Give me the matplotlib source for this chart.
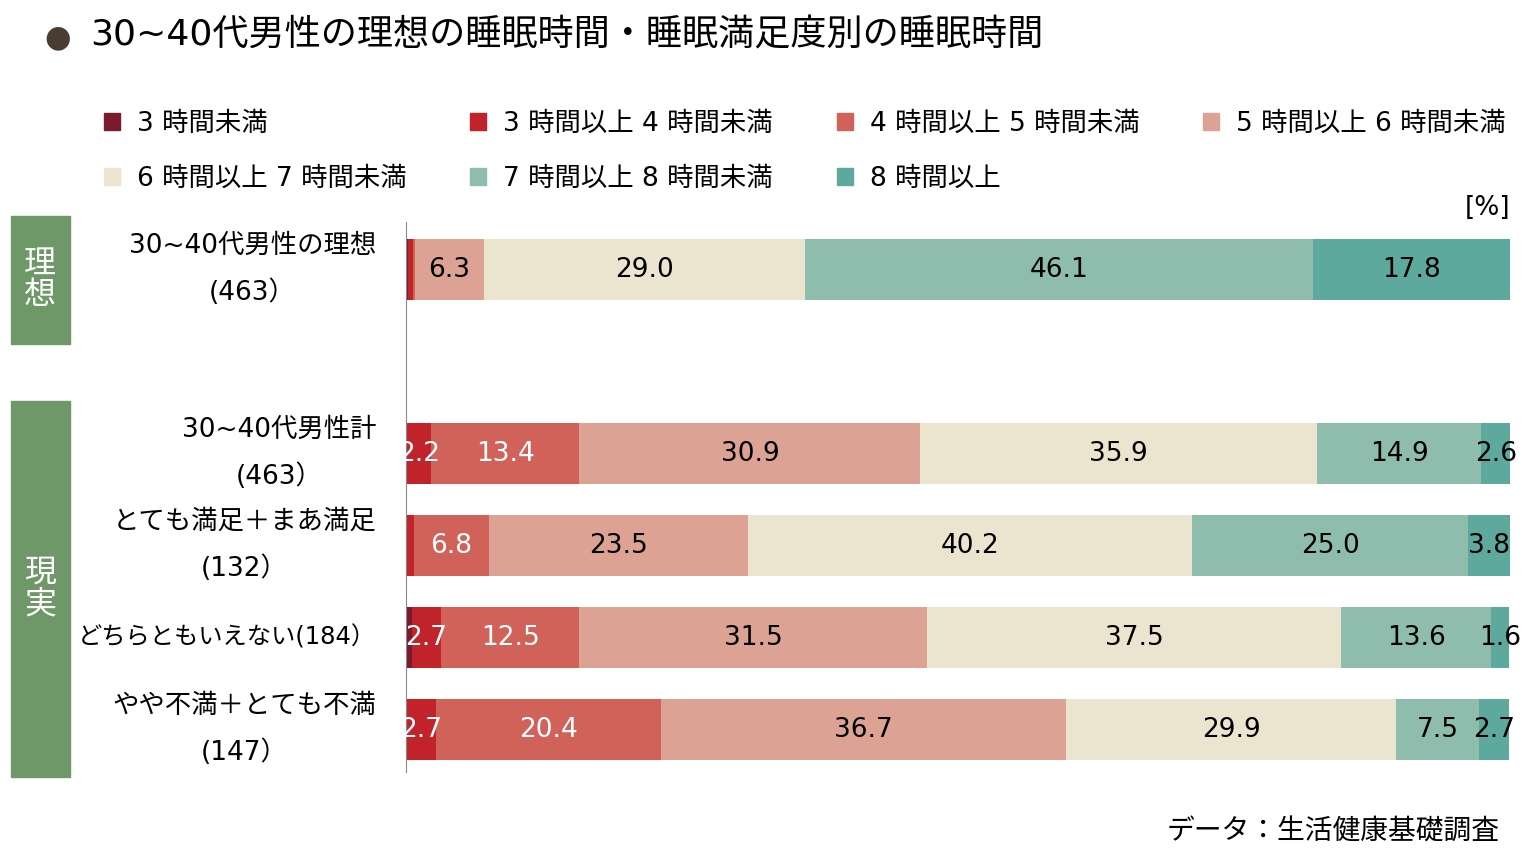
import matplotlib.pyplot as plt
from matplotlib.patches import Patch, Rectangle

plt.rcParams['font.family'] = ['DejaVu Sans', 'Noto Sans CJK JP']

# data
groups = ['30~40代男性の理想\n(463）', '',
          '30~40代男性計\n(463）', 'とても満足＋まあ満足\n(132）',
          'どちらともいえない(184）', 'やや不満＋とても不満\n(147）']
categories = ['3 時間未満', '3 時間以上 4 時間未満', '4 時間以上 5 時間未満',
              '5 時間以上 6 時間未満', '6 時間以上 7 時間未満',
              '7 時間以上 8 時間未満', '8 時間以上']
values = [
    [0.2, 0.4, 0.2, 6.3, 29.0, 46.1, 17.8],
    None,
    [0.1, 2.2, 13.4, 30.9, 35.9, 14.9, 2.6],
    [0.0, 0.7, 6.8, 23.5, 40.2, 25.0, 3.8],
    [0.5, 2.7, 12.5, 31.5, 37.5, 13.6, 1.6],
    [0.0, 2.7, 20.4, 36.7, 29.9, 7.5, 2.7],
]
colors = ['#7b1a2c', '#c0232a', '#d0625a', '#dca294', '#ebe5cf', '#8fbdad', '#5ea99d']
text_colors = ['white', 'white', 'white', 'black', 'black', 'black', 'black']

W, H = 1540, 867
fig = plt.figure(figsize=(15.4, 8.67), dpi=100)
ax = fig.add_axes([406 / W, 1 - 772 / H, (1510 - 406) / W, (772 - 222) / H])

for i, row in enumerate(values):
    if row is None:
        continue
    left = 0
    for j, v in enumerate(row):
        ax.barh(i, v, left=left, height=0.66, color=colors[j], linewidth=0)
        if v >= 1.5:
            ax.text(left + v / 2, i, f'{v:.1f}', ha='center', va='center',
                    fontsize=19, color=text_colors[j])
        left += v

ax.set_xlim(0, 100)
ax.set_ylim(5.46, -0.52)
ax.set_xticks([])
ax.set_yticks([])
for s in ['top', 'right', 'bottom']:
    ax.spines[s].set_visible(False)
ax.spines['left'].set_color('#888888')

# category labels (the single long line is set a bit smaller so it fits)
for i, g in enumerate(groups):
    if g:
        fs = 19 if '\n' in g else 17.5
        ax.text(-2.7, i, g, ha='right', va='center', multialignment='center',
                fontsize=fs, linespacing=2.0, clip_on=False)

# left side boxes
fig.patches.append(Rectangle((11 / W, 1 - 344 / H), 59 / W, 128 / H,
                             transform=fig.transFigure, color='#6f9869'))
fig.patches.append(Rectangle((11 / W, 1 - 777 / H), 59 / W, 376 / H,
                             transform=fig.transFigure, color='#6f9869'))
fig.text(40 / W, 1 - 280 / H, '理\n想', ha='center', va='center', color='white',
         fontsize=23, linespacing=1.0)
fig.text(40 / W, 1 - 589 / H, '現\n実', ha='center', va='center', color='white',
         fontsize=23, linespacing=1.0)

# title
fig.text(58 / W, 1 - 38 / H, '●', ha='center', va='center', color='#4a3b33', fontsize=22)
fig.text(90 / W, 1 - 36 / H, '30~40代男性の理想の睡眠時間・睡眠満足度別の睡眠時間',
         ha='left', va='center', fontsize=26)

# legend, reordered so entries run across rows
order = [0, 4, 1, 5, 2, 6, 3]
handles = [Patch(color=colors[k]) for k in order]
labels = [categories[k] for k in order]
fig.legend(handles, labels, ncol=4, loc='upper left',
           bbox_to_anchor=(80 / W, 1 - 87 / H), frameon=False, fontsize=19,
           handlelength=0.6, handleheight=0.6, handletextpad=0.65,
           columnspacing=2.42, labelspacing=1.09)

fig.text(1510 / W, 1 - 208 / H, '[%]', ha='right', va='center', fontsize=19)
fig.text(1500 / W, 1 - 832 / H, 'データ：生活健康基礎調査', ha='right', va='center',
         fontsize=20)

plt.savefig('out.png', dpi=100)
